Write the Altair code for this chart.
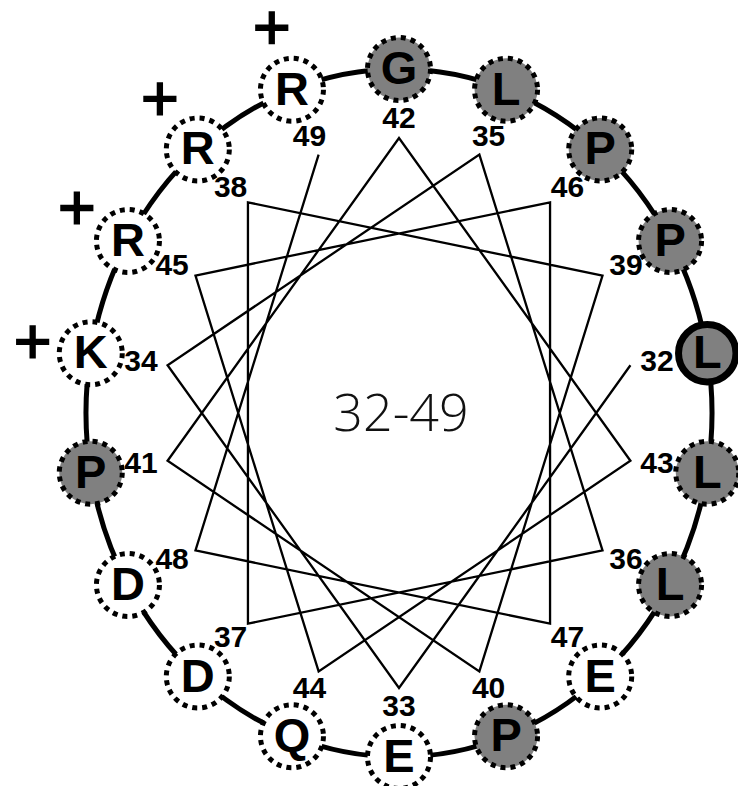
import altair as alt
import numpy as np
import pandas as pd

# ---- data read from the helical wheel ----
numbers = list(range(32, 50))
residues = ["L", "E", "K", "L", "L", "D", "R", "P", "P", "P",
            "G", "L", "Q", "R", "P", "E", "D", "R"]
hydrophobic = [1, 0, 0, 1, 1, 0, 0, 1, 1, 1, 1, 1, 0, 0, 1, 0, 0, 0]
charge = ["", "", "+", "", "", "", "+", "", "", "",
          "", "", "", "+", "", "", "", "+"]
wheel_title = "32-49"

# ---- layout (wheel geometry) ----
W, H = 730, 778
CX, CY = 391, 405
STEP = 100          # degrees per residue
START_ANGLE = 10    # first residue position
rings = {
    "outer": (313, 344),
    "inner": (235, 275),
    "label": (262, 294),
    "charge": (372, 410),
}

idx = np.arange(len(numbers))
ang_deg = START_ANGLE - STEP * idx
ang = np.deg2rad(ang_deg)
df = pd.DataFrame({
    "idx": idx,
    "number": numbers,
    "residue": residues,
    "hydrophobic": hydrophobic,
    "charge": charge,
    "ring_order": np.mod(ang_deg, 360),
})
for name, (rx, ry) in rings.items():
    df[name + "_x"] = CX + rx * np.cos(ang)
    df[name + "_y"] = CY - ry * np.sin(ang)

xs = alt.Scale(domain=[0, W], nice=False, zero=False)
ys = alt.Scale(domain=[0, H], nice=False, zero=False, reverse=True)

def X(f):
    return alt.X(f + ":Q", scale=xs, axis=None)

def Y(f):
    return alt.Y(f + ":Q", scale=ys, axis=None)

base = alt.Chart(df)

inner = base.mark_line(color="black", strokeWidth=2.3).encode(
    x=X("inner_x"), y=Y("inner_y"), order="number:Q")

labels = base.mark_text(font="Liberation Sans", fontWeight="bold",
                        fontSize=30, baseline="middle", align="center",
                        color="black").encode(
    x=X("label_x"), y=Y("label_y"), text="number:N")

ring = base.mark_line(interpolate="cardinal-closed", strokeWidth=5,
                      color="black").encode(
    x=X("outer_x"), y=Y("outer_y"), order="ring_order:Q")

fill_enc = alt.Fill("hydrophobic:N",
                    scale=alt.Scale(domain=[0, 1], range=["white", "#808080"]),
                    legend=None)

dotted = base.transform_filter("datum.idx != 0").mark_point(
    shape="circle", size=3970, filled=True, opacity=1, stroke="black",
    strokeWidth=5, strokeDash=[5, 5]).encode(
    x=X("outer_x"), y=Y("outer_y"), fill=fill_enc)

first = base.transform_filter("datum.idx == 0").mark_point(
    shape="circle", size=3300, filled=True, opacity=1, stroke="black",
    strokeWidth=7).encode(
    x=X("outer_x"), y=Y("outer_y"), fill=fill_enc)

letters = base.mark_text(font="Liberation Sans", fontWeight="bold",
                         fontSize=47, baseline="middle", align="center",
                         dy=1, color="black").encode(
    x=X("outer_x"), y=Y("outer_y"), text="residue:N")

PLUS = "M-0.19,-1H0.19V-0.19H1V0.19H0.19V1H-0.19V0.19H-1V-0.19H-0.19Z"
plus = base.transform_filter("datum.charge == '+'").mark_point(
    shape=PLUS, size=1100, filled=True, opacity=1, color="black").encode(
    x=X("charge_x"), y=Y("charge_y"))

center = alt.Chart(pd.DataFrame({"t": [wheel_title], "x": [CX + 2], "y": [CY + 2]})).mark_text(
    font="Open Sans", fontWeight=300, fontSize=52, baseline="middle",
    align="center", color="#111111").encode(
    x=X("x"), y=Y("y"), text="t:N")

chart = alt.layer(inner, labels, ring, dotted, first, letters, plus, center).properties(
    width=W, height=H, autosize="none", padding=0
).configure_view(stroke=None)

chart.save("out.html", embed_options={"renderer": "svg", "actions": False})
